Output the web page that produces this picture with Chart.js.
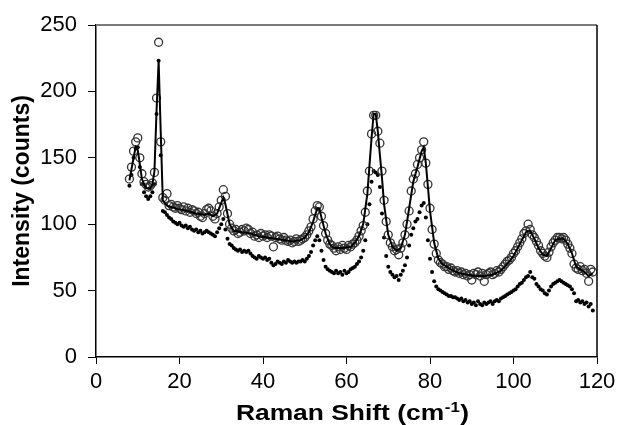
<!DOCTYPE html>
<html>
<head>
<meta charset="utf-8">
<script src="https://cdn.jsdelivr.net/npm/chart.js@4.4.1/dist/chart.umd.min.js"></script>
<style>
  html, body { margin: 0; padding: 0; background: #fff; }
</style>
</head>
<body>
<canvas id="raman" width="617" height="425"></canvas>
<script>
// Raman shift (cm-1) for the measured spectra
const shift = [
  8, 8.5, 9, 9.5, 10, 10.5, 11, 11.5, 12, 12.5,
  13, 13.5, 14, 14.5, 15, 15.5, 16, 16.5, 17, 17.5,
  18, 18.5, 19, 19.5, 20, 20.5, 21, 21.5, 22, 22.5,
  23, 23.5, 24, 24.5, 25, 25.5, 26, 26.5, 27, 27.5,
  28, 28.5, 29, 29.5, 30, 30.5, 31, 31.5, 32, 32.5,
  33, 33.5, 34, 34.5, 35, 35.5, 36, 36.5, 37, 37.5,
  38, 38.5, 39, 39.5, 40, 40.5, 41, 41.5, 42, 42.5,
  43, 43.5, 44, 44.5, 45, 45.5, 46, 46.5, 47, 47.5,
  48, 48.5, 49, 49.5, 50, 50.5, 51, 51.5, 52, 52.5,
  53, 53.5, 54, 54.5, 55, 55.5, 56, 56.5, 57, 57.5,
  58, 58.5, 59, 59.5, 60, 60.5, 61, 61.5, 62, 62.5,
  63, 63.5, 64, 64.5, 65, 65.5, 66, 66.5, 67, 67.5,
  68, 68.5, 69, 69.5, 70, 70.5, 71, 71.5, 72, 72.5,
  73, 73.5, 74, 74.5, 75, 75.5, 76, 76.5, 77, 77.5,
  78, 78.5, 79, 79.5, 80, 80.5, 81, 81.5, 82, 82.5,
  83, 83.5, 84, 84.5, 85, 85.5, 86, 86.5, 87, 87.5,
  88, 88.5, 89, 89.5, 90, 90.5, 91, 91.5, 92, 92.5,
  93, 93.5, 94, 94.5, 95, 95.5, 96, 96.5, 97, 97.5,
  98, 98.5, 99, 99.5, 100, 100.5, 101, 101.5, 102, 102.5,
  103, 103.5, 104, 104.5, 105, 105.5, 106, 106.5, 107, 107.5,
  108, 108.5, 109, 109.5, 110, 110.5, 111, 111.5, 112, 112.5,
  113, 113.5, 114, 114.5, 115, 115.5, 116, 116.5, 117, 117.5,
  118, 118.5, 119
];

// open circles
const measured = [
  134, 143, 155, 162, 165, 150, 138, 132, 130, 128,
  129, 131, 139, 195, 237, 162, 120, 118, 123, 114,
  115, 113, 112, 114, 112, 111, 113, 110, 112, 109,
  111, 110, 108, 109, 106, 105, 108, 111, 112, 110,
  106, 104, 108, 113, 118, 126, 121, 108, 100, 97,
  95, 96, 93, 94, 96, 95, 97, 96, 93, 94,
  91, 92, 90, 93, 91, 92, 90, 92, 91, 83,
  90, 91, 89, 88, 90, 88, 87, 88, 86, 87,
  89, 87, 88, 89, 90, 92, 95, 98, 104, 110,
  114, 113, 106, 99, 93, 88, 85, 84, 82, 80,
  83, 81, 84, 82, 81, 84, 83, 85, 86, 88,
  91, 95, 99, 109, 125, 140, 168, 182, 182, 170,
  161, 140, 118, 102, 92, 86, 83, 80, 81, 77,
  82, 86, 92, 100, 110, 125, 134, 138, 145, 150,
  156, 162, 146, 130, 112, 96, 85, 78, 73, 71,
  70, 68, 68, 66, 67, 65, 64, 65, 63, 64,
  62, 63, 61, 62, 58, 63, 62, 64, 61, 63,
  57, 62, 63, 64, 62, 63, 65, 64, 66, 68,
  70, 72, 73, 75, 78, 80, 83, 86, 89, 93,
  95, 100, 96, 92, 90, 87, 84, 80, 78, 76,
  75, 79, 83, 86, 88, 90, 90, 89, 90, 88,
  85, 82, 78, 70, 67, 66, 68, 65, 66, 63,
  57, 66, 64
];

// small filled dots
const lower = [
  129, 137, 150, 157, 158, 143, 130, 124, 121, 119,
  121, 124, 130, 183, 223, 152, 110, 109, 107, 105,
  104, 102, 101, 100, 101, 99, 98, 99, 97, 98,
  96, 95, 96, 94, 95, 93, 94, 95, 94, 93,
  92, 91, 94, 97, 100, 104, 96, 89, 85, 84,
  82, 81, 80, 81, 79, 80, 79, 80, 78, 76,
  75, 74, 76, 75, 74, 75, 73, 74, 71, 69,
  70, 72, 71, 70, 72, 71, 73, 72, 71, 72,
  71, 72, 72, 73, 72, 74, 76, 79, 84, 88,
  91, 88, 80, 73, 68, 66, 65, 64, 63, 65,
  63, 64, 62, 65, 63, 64, 66, 67, 68, 70,
  72, 75, 80, 88, 100, 115, 132, 140, 139, 137,
  128, 108, 90, 76, 68, 64, 62, 60, 61, 58,
  62, 65, 69, 75, 84, 92, 97, 102, 104, 109,
  114, 116, 105, 88, 74, 64, 57, 53, 51, 50,
  49, 48, 47, 46, 46, 45, 45, 44, 43, 44,
  42, 43, 41, 42, 40, 41, 39, 42, 40, 39,
  41, 40, 41, 42, 40, 42, 43, 42, 44, 45,
  46, 47, 48, 49, 50, 51, 53, 55, 56, 58,
  60, 61, 64, 60, 59, 55, 53, 51, 50, 48,
  47, 50, 53, 55, 56, 57, 58, 57, 56, 55,
  54, 53, 51, 48, 42, 43, 41, 42, 40, 41,
  38, 40, 35
];

// fitted curve (solid line)
const fitX = [
  8, 9, 9.5, 10, 10.5, 11, 12, 13, 13.5, 14,
  14.5, 15, 15.5, 16, 17, 18, 20, 22, 24, 26,
  27, 28, 29, 30, 30.5, 31, 32, 33, 35, 37,
  39, 41, 43, 45, 47, 49, 50, 51, 52, 53,
  53.5, 54, 55, 56, 57, 59, 61, 62, 63, 64,
  65, 66, 66.5, 67, 67.5, 68, 68.5, 69, 70, 71,
  72, 73, 74, 75, 76, 77, 78, 78.5, 79, 79.5,
  80, 81, 82, 83, 85, 87, 89, 91, 93, 95,
  97, 99, 100, 101, 102, 103, 103.5, 104, 105, 106,
  107, 108, 109, 110, 111, 112, 113, 114, 115, 116,
  117, 118, 119
];
const fitY = [
  133, 150, 158, 156, 145, 134, 127, 127, 130, 140,
  185, 223, 170, 118, 114, 113, 111, 110, 108, 107,
  108, 106, 108, 116, 120, 115, 100, 95, 94, 93,
  91, 90, 89, 88, 87, 88, 90, 94, 102, 112,
  112, 105, 93, 85, 82, 82, 83, 86, 91, 100,
  123, 165, 183, 183, 170, 152, 135, 115, 92, 83,
  80, 82, 92, 112, 132, 143, 155, 158, 146, 128,
  110, 86, 74, 70, 66, 63, 62, 61, 61, 62,
  65, 72, 76, 82, 88, 94, 95, 95, 89, 82,
  77, 76, 82, 88, 89, 89, 85, 78, 68, 66,
  64, 61, 63
];

const xTicks = [0, 20, 40, 60, 80, 100, 120];
const yTicks = [0, 50, 100, 150, 200, 250];

function pairUp(xs, ys) {
    return xs.map((x, i) => ({ x: x, y: ys[i] }));
}

// top and right frame of the plot box, plus the x title with its superscript
const frame = {
    id: 'frame',
    afterDraw(chart) {
        const { ctx, chartArea: a } = chart;
        ctx.save();
        ctx.lineWidth = 2;
        ctx.strokeStyle = '#7a7a7a';
        ctx.beginPath();
        ctx.moveTo(a.left, a.top);
        ctx.lineTo(a.right, a.top);
        ctx.stroke();
        ctx.lineWidth = 1.5;
        ctx.strokeStyle = '#000';
        ctx.beginPath();
        ctx.moveTo(a.right, a.top);
        ctx.lineTo(a.right, a.bottom);
        ctx.stroke();

        // x axis title, slightly widened like the original
        const main = 'Raman Shift (cm';
        const sup = '-1';
        const tail = ')';
        const big = 'bold 22px Arial, "Liberation Sans", sans-serif';
        const small = 'bold 14px Arial, "Liberation Sans", sans-serif';
        ctx.fillStyle = '#000';
        ctx.textBaseline = 'alphabetic';
        ctx.font = big;
        const w1 = ctx.measureText(main).width;
        const w3 = ctx.measureText(tail).width;
        ctx.font = small;
        const w2 = ctx.measureText(sup).width + 1;
        const stretch = 1.2;
        const total = (w1 + w2 + w3) * stretch;
        const cx = (a.left + a.right) / 2 + 6;
        ctx.translate(cx - total / 2, 420);
        ctx.scale(stretch, 1);
        ctx.font = big;
        ctx.textAlign = 'left';
        ctx.fillText(main, 0, 0);
        ctx.font = small;
        ctx.fillText(sup, w1 + 0.5, -8);
        ctx.font = big;
        ctx.fillText(tail, w1 + w2, 0);
        ctx.restore();
    }
};

Chart.defaults.font.family = 'Arial, "Liberation Sans", sans-serif';
Chart.defaults.color = '#000';

new Chart(document.getElementById('raman'), {
    type: 'scatter',
    data: {
        datasets: [
            {
                label: 'Fit',
                data: pairUp(fitX, fitY),
                showLine: true,
                borderColor: '#000',
                borderWidth: 2,
                pointRadius: 0,
                order: 1
            },
            {
                label: 'Measured',
                data: pairUp(shift, measured),
                pointStyle: 'circle',
                pointRadius: 4,
                borderWidth: 1.3,
                borderColor: '#333',
                backgroundColor: 'rgba(255,255,255,0)',
                order: 2
            },
            {
                label: 'Lower',
                data: pairUp(shift, lower),
                pointStyle: 'circle',
                pointRadius: 2,
                borderWidth: 0,
                backgroundColor: '#000',
                order: 3
            }
        ]
    },
    options: {
        responsive: false,
        animation: false,
        events: [],
        layout: { padding: { top: 25, right: 20, left: 0, bottom: 0 } },
        plugins: {
            legend: { display: false },
            tooltip: { enabled: false }
        },
        scales: {
            x: {
                type: 'linear',
                min: 0,
                max: 120,
                afterBuildTicks: (scale) => { scale.ticks = xTicks.map(v => ({ value: v })); },
                afterFit: (scale) => {
                    scale.height = 68;
                    scale.paddingLeft = 0;
                    scale.paddingRight = 0;
                },
                ticks: { font: { size: 22 }, padding: 5, color: '#000' },
                grid: { drawOnChartArea: false, drawTicks: true, tickLength: 7, color: '#000' },
                border: { color: '#000', width: 1.5 },
                title: { display: false }
            },
            y: {
                type: 'linear',
                min: 0,
                max: 250,
                afterBuildTicks: (scale) => { scale.ticks = yTicks.map(v => ({ value: v })); },
                afterFit: (scale) => { scale.width = 96; },
                ticks: { font: { size: 22 }, padding: 11, color: '#000' },
                grid: { drawOnChartArea: false, drawTicks: true, tickLength: 8, color: '#000' },
                border: { color: '#000', width: 1.5 },
                title: {
                    display: true,
                    text: 'Intensity (counts)',
                    font: { size: 23, weight: 'bold' },
                    padding: { top: 9, bottom: 0 },
                    color: '#000'
                }
            }
        }
    },
    plugins: [frame]
});
</script>
</body>
</html>
